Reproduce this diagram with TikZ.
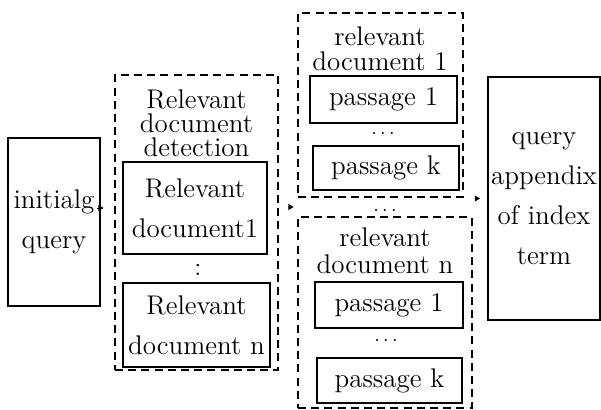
\documentclass[tikz,border=0pt]{standalone}
\usetikzlibrary{arrows.meta,calc}

\begin{document}
\begin{tikzpicture}[x=0.5pt,y=-0.5pt,
  box/.style={draw,line width=1pt,inner sep=0pt,align=center,font=\fontsize{13.5}{20}\selectfont},
  dbox/.style={draw,dash pattern=on 4pt off 2.6pt,line width=1.4pt,inner sep=0pt},
  ttl/.style={align=center,inner sep=0pt,font=\fontsize{13.5}{12}\selectfont},
  flow/.style={-{Triangle[length=2.6pt,width=3pt]},line width=0.4pt}]
  \useasboundingbox (0,0) rectangle (601,410);

  % query in
  \node[box,minimum width=46pt,minimum height=84pt] (init) at (54,222) {initialg\\query};

  % detection stage
  \node[dbox,minimum width=81.5pt,minimum height=147.5pt] (detect) at (196.5,222.5) {};
  \node[ttl] (detecttitle) at (196.5,123) {Relevant\\document\\detection};
  \node[box,minimum width=72pt,minimum height=46pt] (rd1) at (195,208) {Relevant\\document1};
  \node[font=\fontsize{13}{14}\selectfont] (vdots) at (198,270) {:};
  \node[box,minimum width=73.5pt,minimum height=42pt] (rdn) at (196.5,325) {Relevant\\document\ n};

  % passages of document 1
  \node[dbox,minimum width=82.5pt,minimum height=92pt] (doc1) at (380.5,105) {};
  \node[ttl,font=\fontsize{13.5}{12.5}\selectfont] (doc1title) at (380,49) {relevant\\document\ 1};
  \node[box,minimum width=73.5pt,minimum height=23.5pt] (p11) at (383.5,99.5) {passage\ 1};
  \node (dots1) at (383,134) {$\cdots$};
  \node[box,minimum width=73pt,minimum height=22pt] (p1k) at (386,168) {passage\ k};

  \node (dotsmid) at (385,211) {$\cdots$};

  % passages of document n
  \node[dbox,minimum width=87pt,minimum height=95.5pt] (docn) at (385,312.5) {};
  \node[ttl,font=\fontsize{13.5}{13.5}\selectfont] (docntitle) at (385,251) {relevant\\document\ n};
  \node[box,minimum width=74pt,minimum height=23pt] (pn1) at (389,305) {passage\ 1};
  \node (dots2) at (386,341) {$\cdots$};
  \node[box,minimum width=72.5pt,minimum height=22.5pt] (pnk) at (389.5,380.5) {passage\ k};

  % expanded query
  \node[box,minimum width=56pt,minimum height=121.5pt] (query) at (544,198.5) {query\\appendix\\of\ index\\term};

  \coordinate (gap) at ($(doc1.south west)!0.5!(docn.north west)$);
  \draw[flow,shorten <=2pt,shorten >=5pt] (init.east |- rd1) -- (detect.west |- rd1);
  \draw[flow,shorten <=6pt,shorten >=1.5pt] (detect.east |- gap) -- (gap);
  \draw[flow,shorten <=2pt,shorten >=3.5pt] (docn.east |- query) -- (query.west);
\end{tikzpicture}
\end{document}
